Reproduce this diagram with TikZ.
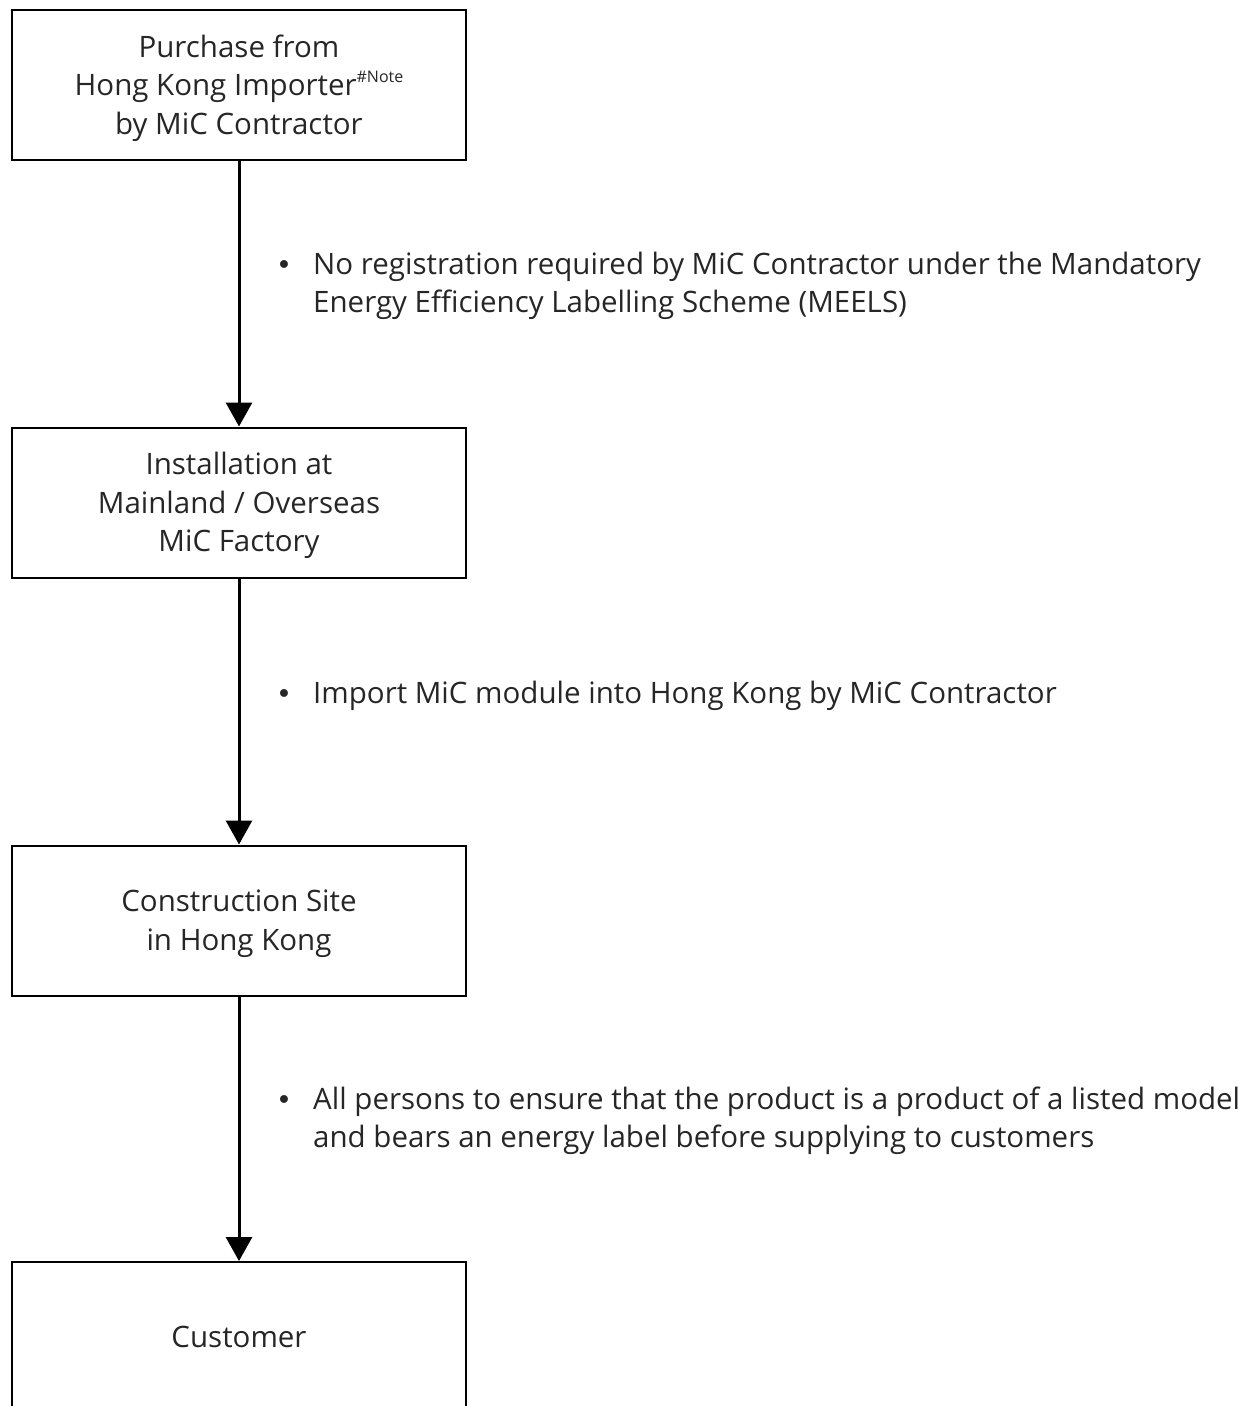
\documentclass[tikz,border=0pt]{standalone}
\usepackage{fontspec}
\setmainfont{Open Sans}
\newfontfamily\dvfont{DejaVu Sans}
\usetikzlibrary{arrows.meta}
\newcommand{\txtsize}{\fontsize{29.5}{38.5}\selectfont}
\tikzset{
  box/.style={draw=black, line width=2pt, minimum width=454pt, minimum height=150pt, inner sep=0pt, align=center, font=\txtsize, text=black!85, text height=21pt},
  box1/.style={box, text depth=0pt},
  box2/.style={box, text depth=38.5pt},
  box3/.style={box, text depth=77pt},
  flow/.style={line width=3pt, -{Triangle[width=26pt,length=24pt]}},
  note/.style={anchor=base west, inner sep=0pt, font=\txtsize, text=black!85},
  dot/.style={anchor=base west, inner sep=0pt, font=\dvfont\fontsize{27}{27}\selectfont, text=black!85}
}
\newcommand{\lines}[1]{\begin{tabular}[t]{@{}c@{}}#1\end{tabular}}
\newcommand{\llines}[1]{\begin{tabular}[t]{@{}l@{}}#1\end{tabular}}
\begin{document}
\begin{tikzpicture}[x=1pt,y=-1pt]
\useasboundingbox (0,0) rectangle (1253,1406);
\node[box3] (b1) at (239,85) {\lines{Purchase from\\Hong Kong Importer\raisebox{13pt}{\fontsize{16}{16}\selectfont\#Note}\\by MiC Contractor}};
\node[box3] (b2) at (239,502.5) {\lines{Installation at\\Mainland / Overseas\\MiC Factory}};
\node[box2] (b3) at (239,920.5) {\lines{Construction Site\\in Hong Kong}};
\node[box1] (b4) at (239,1337) {\lines{Customer}};
\draw[flow] (b1.south) -- (b2.north);
\draw[flow] (b2.south) -- (b3.north);
\draw[flow] (b3.south) -- (b4.north);
\node[dot] (d1) at (276,274) {•};
\node[note] (n1) at (313,274) {\llines{No registration required by MiC Contractor under the Mandatory\\Energy Efficiency Labelling Scheme (MEELS)}};
\node[dot] (d2) at (276,703) {•};
\node[note] (n2) at (313,703) {\llines{Import MiC module into Hong Kong by MiC Contractor}};
\node[dot] (d3) at (276,1109) {•};
\node[note] (n3) at (313,1109) {\llines{All persons to ensure that the product is a product of a listed model\\and bears an energy label before supplying to customers}};
\end{tikzpicture}
\end{document}
